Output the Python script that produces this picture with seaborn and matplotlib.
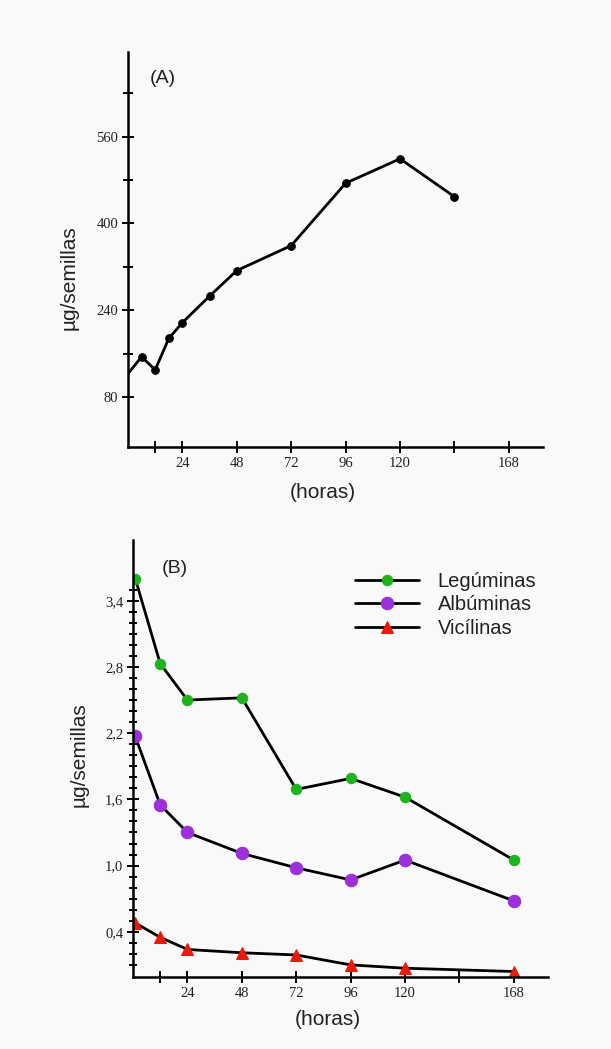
import seaborn as sns
import pandas as pd
import numpy as np
import matplotlib.pyplot as plt
from matplotlib.legend_handler import HandlerLine2D

#----- Data -----
horas_a = [0, 6, 12, 18, 24, 36, 48, 72, 96, 120, 144]
proteina_a = [123, 154, 130, 188, 217, 266, 313, 359, 474, 519, 449]

horas_b = [1, 12, 24, 48, 72, 96, 120, 168]
leguminas = [3.60, 2.83, 2.50, 2.52, 1.69, 1.79, 1.62, 1.05]
albuminas = [2.17, 1.55, 1.30, 1.11, 0.98, 0.87, 1.05, 0.68]
vicilinas = [0.48, 0.35, 0.24, 0.21, 0.19, 0.10, 0.07, 0.04]

xticks_lab = [24, 48, 72, 96, 120, 168]
xticks_min = [12, 144]
yticks_a = [80, 240, 400, 560]
yticks_b = [0.4, 1.0, 1.6, 2.2, 2.8, 3.4]
yticks_b_lab = ["0,4", "1,0", "1,6", "2,2", "2,8", "3,4"]

df_a = pd.DataFrame({"horas": horas_a, "valor": proteina_a})
df_b = pd.DataFrame({"horas": horas_b, "Legúminas": leguminas,
                     "Albúminas": albuminas, "Vicílinas": vicilinas})

sns.set_style("white")
plt.rcParams['font.family'] = ['Liberation Sans', 'DejaVu Sans']
bg = "#f9f9f9"
txt = "#222222"


class EndMarkerHandler(HandlerLine2D):
    # put the marker at the right end of the legend line
    def get_xdata(self, legend, xdescent, ydescent, width, height, fontsize):
        xdata = np.array([-xdescent, -xdescent + width])
        return xdata, np.array([-xdescent + width])


def style_axes(ax):
    ax.set_facecolor(bg)
    for s in ["top", "right"]:
        ax.spines[s].set_visible(False)
    for s in ["left", "bottom"]:
        ax.spines[s].set_color("black")
        ax.spines[s].set_linewidth(1.8)
    ax.set_xticks(xticks_lab)
    ax.set_xticklabels([str(t) for t in xticks_lab], family="Liberation Serif", fontsize=10.5)
    ax.set_xticks(xticks_min, minor=True)
    ax.tick_params(which="both", bottom=True, left=True, direction="inout",
                   length=8, width=1.4, color="black", pad=3, labelcolor=txt)
    ax.tick_params(axis="y", which="minor", length=7)
    ax.set_xlim(0, 183)
    ax.set_xlabel("(horas)", fontsize=15, color=txt)
    ax.set_ylabel("µg/semillas", fontsize=15, color=txt)


fig = plt.figure(figsize=(6.11, 10.49), dpi=100)
fig.patch.set_facecolor(bg)

#----- Panel A -----
ax1 = fig.add_axes([0.2095, 0.574, 0.679, 0.376])
sns.lineplot(data=df_a, x="horas", y="valor", ax=ax1, color="black", linewidth=2,
             marker="o", markersize=5.5, markeredgecolor="black",
             markevery=list(range(1, len(horas_a))))
style_axes(ax1)
ax1.set_ylim(-12, 715)
ax1.set_yticks(yticks_a)
ax1.set_yticklabels([str(t) for t in yticks_a], family="Liberation Serif", fontsize=10.5)
ax1.set_yticks([160, 320, 480, 640], minor=True)
ax1.yaxis.set_label_coords(-0.118, 0.43)
ax1.xaxis.set_label_coords(0.47, -0.092)
ax1.text(0.053, 0.955, "(A)", transform=ax1.transAxes, fontsize=14, color=txt, va="top")

#----- Panel B -----
ax2 = fig.add_axes([0.2177, 0.0686, 0.679, 0.4166])
series = [("Legúminas", "o", "#1db31d", 7.5),
          ("Albúminas", "o", "#9b30d9", 9),
          ("Vicílinas", "^", "#e81a0c", 8.5)]
handles = []
for name, mk, col, ms in series:
    sns.lineplot(data=df_b, x="horas", y=name, ax=ax2, color="black", linewidth=2,
                 marker=mk, markersize=ms, markerfacecolor=col, markeredgecolor=col)
    handles.append(ax2.get_lines()[-1])
style_axes(ax2)
ax2.set_ylim(-0.01, 3.95)
ax2.set_yticks(yticks_b)
ax2.set_yticklabels(yticks_b_lab, family="Liberation Serif", fontsize=10.5)
ax2.set_yticks([round(v * 0.1, 1) for v in range(1, 36) if v % 6 != 4], minor=True)
ax2.tick_params(axis="y", which="minor", length=6)
ax2.yaxis.set_label_coords(-0.106, 0.508)
ax2.xaxis.set_label_coords(0.47, -0.076)
ax2.text(0.07, 0.955, "(B)", transform=ax2.transAxes, fontsize=14, color=txt, va="top")
ax2.legend(handles, [s[0] for s in series], loc="upper left", bbox_to_anchor=(0.535, 0.927),
           frameon=False, fontsize=14.5, handlelength=3.2, handletextpad=0.9,
           labelspacing=0.22, borderpad=0, borderaxespad=0, labelcolor=txt,
           handler_map={h: EndMarkerHandler() for h in handles})

plt.savefig("out.png", dpi=100, facecolor=bg)
